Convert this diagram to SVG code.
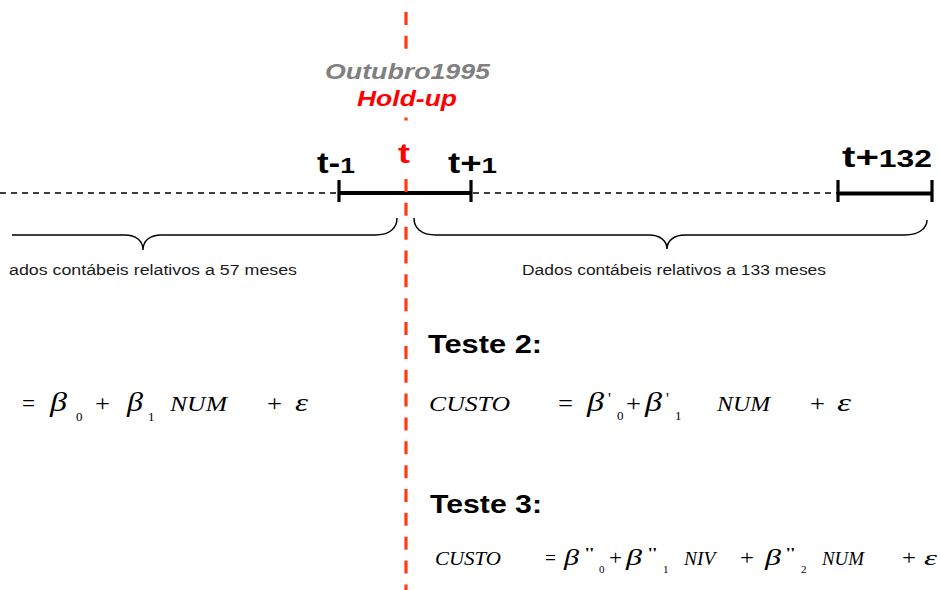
<svg xmlns="http://www.w3.org/2000/svg" width="940" height="590" viewBox="0 0 940 590">
<style>
.sans{font-family:"Liberation Sans",Arial,sans-serif;}
.b{font-weight:bold;}
.bi{font-weight:bold;font-style:italic;}
.lbl{font-family:"Liberation Sans",Arial,sans-serif;font-size:14px;fill:#1a1a1a;}
.eq{font-family:"Liberation Serif","Times New Roman",serif;font-style:italic;fill:#000;}
.up{font-style:normal;}
.brace{fill:none;stroke:#000;stroke-width:1.5;}
.tick{stroke:#000;stroke-width:3.2;}
.thick{stroke:#000;stroke-width:4;}
</style>
<rect width="940" height="590" fill="#fff"/>

<g id="timeline">
  <line x1="0" y1="193" x2="932" y2="193" stroke="#000" stroke-width="1.3" stroke-dasharray="6 5"/>
  <line class="thick" x1="339" y1="193" x2="471" y2="193"/>
  <line class="tick" x1="339" y1="180" x2="339" y2="202"/>
  <line class="tick" x1="471" y1="180" x2="471" y2="202"/>
  <line class="thick" x1="838" y1="193.5" x2="932" y2="193.5"/>
  <line class="tick" x1="838" y1="180" x2="838" y2="202"/>
  <line class="tick" x1="932" y1="180" x2="932" y2="202"/>
</g>

<g id="connectors">
  <line x1="406" y1="12" x2="406" y2="590" stroke="#FF3A12" stroke-width="3.2" stroke-dasharray="13 10.85"/>
  <rect x="398" y="50" width="16" height="67.5" fill="#fff"/>
  <rect x="398" y="121" width="16" height="57.5" fill="#fff"/>
</g>

<g id="event">
  <text class="sans bi" x="325" y="79" font-size="22" fill="#808080" textLength="165" lengthAdjust="spacingAndGlyphs">Outubro1995</text>
  <text class="sans bi" x="357" y="106" font-size="22" fill="#FF0000" textLength="100" lengthAdjust="spacingAndGlyphs">Hold-up</text>
</g>

<g id="label-t">
  <text class="sans b" x="398" y="163" font-size="28" fill="#FF0000" textLength="12" lengthAdjust="spacingAndGlyphs">t</text>
</g>
<g id="label-t-1">
  <text class="sans b" x="317" y="173" font-size="29" fill="#000" textLength="38" lengthAdjust="spacingAndGlyphs">t-<tspan font-size="22">1</tspan></text>
</g>
<g id="label-t+1">
  <text class="sans b" x="448" y="173" font-size="29" fill="#000" textLength="49" lengthAdjust="spacingAndGlyphs">t+<tspan font-size="22">1</tspan></text>
</g>
<g id="label-t+132">
  <text class="sans b" x="842" y="167" font-size="29" fill="#000" textLength="90" lengthAdjust="spacingAndGlyphs">t+<tspan font-size="23">132</tspan></text>
</g>

<g id="brace-left">
  <path class="brace" d="M12,235 H125 C135,235 143,240 143,250 C143,240 151,235 161,235 H375 C390,235 397,228 397,218"/>
  <text class="lbl" x="9" y="275" textLength="288" lengthAdjust="spacingAndGlyphs">ados contábeis relativos a 57 meses</text>
</g>

<g id="brace-right">
  <path class="brace" d="M414,218 C414,228 421,235 436,235 H649 C659,235 667,240 667,249 C667,240 675,235 685,235 H905 C919,235 927,228 927,220"/>
  <text class="lbl" x="522" y="275" textLength="304" lengthAdjust="spacingAndGlyphs">Dados contábeis relativos a 133 meses</text>
</g>

<g id="teste1">
  <text class="eq" y="411" font-size="21">
    <tspan class="up" x="22" font-size="24" textLength="13" lengthAdjust="spacingAndGlyphs">=</tspan>
    <tspan x="50" font-size="27" textLength="17" lengthAdjust="spacingAndGlyphs">β</tspan>
    <tspan class="up" x="76" y="421" font-size="13">0</tspan>
    <tspan class="up" x="95" y="411" font-size="24" textLength="15" lengthAdjust="spacingAndGlyphs">+</tspan>
    <tspan x="127" font-size="27" textLength="16" lengthAdjust="spacingAndGlyphs">β</tspan>
    <tspan class="up" x="148" y="421" font-size="13">1</tspan>
    <tspan x="170" y="411" textLength="57" lengthAdjust="spacingAndGlyphs">NUM</tspan>
    <tspan class="up" x="267" font-size="24" textLength="15" lengthAdjust="spacingAndGlyphs">+</tspan>
    <tspan x="295" font-size="26" textLength="13" lengthAdjust="spacingAndGlyphs">ε</tspan>
  </text>
</g>

<g id="teste2">
  <text class="sans b" x="428" y="353" font-size="25" fill="#000" textLength="114" lengthAdjust="spacingAndGlyphs">Teste 2:</text>
  <text class="eq" y="411" font-size="21">
    <tspan x="429" textLength="81" lengthAdjust="spacingAndGlyphs">CUSTO</tspan>
    <tspan class="up" x="558" font-size="24" textLength="15" lengthAdjust="spacingAndGlyphs">=</tspan>
    <tspan x="587" font-size="27" textLength="17" lengthAdjust="spacingAndGlyphs">β</tspan>
    <tspan class="up" x="608" y="404" font-size="16">'</tspan>
    <tspan class="up" x="617" y="420" font-size="13">0</tspan>
    <tspan class="up" x="626" y="411" font-size="24" textLength="15" lengthAdjust="spacingAndGlyphs">+</tspan>
    <tspan x="645" font-size="27" textLength="17" lengthAdjust="spacingAndGlyphs">β</tspan>
    <tspan class="up" x="666" y="404" font-size="16">'</tspan>
    <tspan class="up" x="675" y="420" font-size="13">1</tspan>
    <tspan x="717" y="411" textLength="53" lengthAdjust="spacingAndGlyphs">NUM</tspan>
    <tspan class="up" x="810" font-size="24" textLength="15" lengthAdjust="spacingAndGlyphs">+</tspan>
    <tspan x="837" font-size="26" textLength="14" lengthAdjust="spacingAndGlyphs">ε</tspan>
  </text>
</g>

<g id="teste3">
  <text class="sans b" x="430" y="513" font-size="25" fill="#000" textLength="112" lengthAdjust="spacingAndGlyphs">Teste 3:</text>
  <text class="eq" y="565" font-size="18">
    <tspan x="435" textLength="66" lengthAdjust="spacingAndGlyphs">CUSTO</tspan>
    <tspan class="up" x="545" font-size="20" textLength="11" lengthAdjust="spacingAndGlyphs">=</tspan>
    <tspan x="564" font-size="23" textLength="15" lengthAdjust="spacingAndGlyphs">β</tspan>
    <tspan class="up" x="585" y="558" font-size="15" textLength="9" lengthAdjust="spacingAndGlyphs">''</tspan>
    <tspan class="up" x="599" y="573" font-size="11">0</tspan>
    <tspan class="up" x="609" y="565" font-size="20" textLength="13" lengthAdjust="spacingAndGlyphs">+</tspan>
    <tspan x="626" font-size="23" textLength="16" lengthAdjust="spacingAndGlyphs">β</tspan>
    <tspan class="up" x="648" y="558" font-size="15" textLength="9" lengthAdjust="spacingAndGlyphs">''</tspan>
    <tspan class="up" x="663" y="573" font-size="11">1</tspan>
    <tspan x="684" y="565" textLength="31" lengthAdjust="spacingAndGlyphs">NIV</tspan>
    <tspan class="up" x="740" font-size="20" textLength="14" lengthAdjust="spacingAndGlyphs">+</tspan>
    <tspan x="765" font-size="23" textLength="16" lengthAdjust="spacingAndGlyphs">β</tspan>
    <tspan class="up" x="786" y="558" font-size="15" textLength="9" lengthAdjust="spacingAndGlyphs">''</tspan>
    <tspan class="up" x="801" y="573" font-size="11">2</tspan>
    <tspan x="822" y="565" textLength="42" lengthAdjust="spacingAndGlyphs">NUM</tspan>
    <tspan class="up" x="902" font-size="20" textLength="14" lengthAdjust="spacingAndGlyphs">+</tspan>
    <tspan x="924" font-size="22" textLength="13" lengthAdjust="spacingAndGlyphs">ε</tspan>
  </text>
</g>
</svg>
